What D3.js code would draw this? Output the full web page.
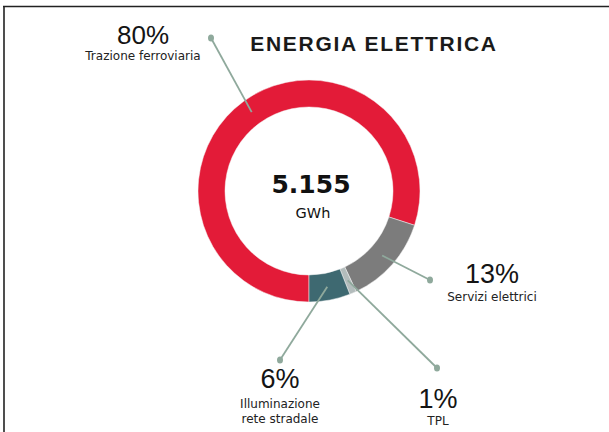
<!DOCTYPE html>
<html>
<head>
<meta charset="utf-8">
<script src="https://cdn.jsdelivr.net/npm/d3@7/dist/d3.min.js"></script>
<style>
  html, body { margin: 0; padding: 0; background: #fff; }
  svg { display: block; }
</style>
</head>
<body>
<svg id="chart" width="609" height="432"></svg>
<script>
// ---- data ----
const title = "ENERGIA ELETTRICA";
const totalValue = "5.155";
const totalUnit = "GWh";
const categories = ["Trazione ferroviaria", "Servizi elettrici", "TPL", "Illuminazione rete stradale"];
const values = [80, 13, 1, 6];
const valueLabels = ["80%", "13%", "1%", "6%"];
const labelLines = [["Trazione ferroviaria"], ["Servizi elettrici"], ["TPL"], ["Illuminazione", "rete stradale"]];
const colors = ["#e31b38", "#7c7c7c", "#b3bcbc", "#3e6971"];

// ---- layout ----
const W = 609, H = 432;
const cx = 309, cy = 191;
const rOuter = 111, rInner = 84;
// leader end (dot) positions and label anchors, per slice
const layout = [
  { dot: [211, 38],  lx: 143, py: 44,  sy: 60 },
  { dot: [430, 280], lx: 492, py: 283, sy: 301 },
  { dot: [437, 368], lx: 438, py: 408, sy: 425 },
  { dot: [280, 360], lx: 280, py: 388, sy: 408 }
];

const svg = d3.select("#chart");

// frame (top and left rules)
svg.append("line").attr("x1", 3).attr("x2", W).attr("y1", 6.5).attr("y2", 6.5)
  .attr("stroke", "#222").attr("stroke-width", 1.6);
svg.append("line").attr("x1", 4).attr("x2", 4).attr("y1", 6).attr("y2", H)
  .attr("stroke", "#222").attr("stroke-width", 1.6);

// title
svg.append("text")
  .attr("x", 374).attr("y", 51)
  .attr("text-anchor", "middle")
  .attr("font-family", "'Liberation Sans', Arial, sans-serif")
  .attr("font-weight", "bold")
  .attr("font-size", 21)
  .attr("letter-spacing", 1.7)
  .attr("fill", "#1a1a1a")
  .text(title);

const pie = d3.pie().sort(null).value(d => d).startAngle(Math.PI).endAngle(3 * Math.PI);
const arcs = pie(values);
const arc = d3.arc().innerRadius(rInner).outerRadius(rOuter);
const midArc = d3.arc().innerRadius((rInner + rOuter) / 2).outerRadius((rInner + rOuter) / 2);

const g = svg.append("g").attr("transform", `translate(${cx},${cy})`);

g.selectAll("path.slice")
  .data(arcs)
  .join("path")
  .attr("class", "slice")
  .attr("d", arc)
  .attr("fill", (d, i) => colors[i])
  .attr("stroke", "#f4f4f4")
  .attr("stroke-width", 0.5);

// leader lines
const lineColor = "#8fa99c";
arcs.forEach((d, i) => {
  const c = midArc.centroid(d);
  const sx = cx + c[0], sy = cy + c[1];
  const [ex, ey] = layout[i].dot;
  svg.append("line")
    .attr("x1", sx).attr("y1", sy).attr("x2", ex).attr("y2", ey)
    .attr("stroke", lineColor).attr("stroke-width", 1.8);
  svg.append("ellipse")
    .attr("cx", ex).attr("cy", ey).attr("rx", 3).attr("ry", 3.6)
    .attr("fill", lineColor);
});

// labels
arcs.forEach((d, i) => {
  const L = layout[i];
  svg.append("text")
    .attr("x", L.lx).attr("y", L.py)
    .attr("text-anchor", "middle")
    .attr("font-family", "'Liberation Sans', Arial, sans-serif")
    .attr("font-size", i === 0 ? 26 : 27)
    .attr("fill", "#141414")
    .text(valueLabels[i]);
  labelLines[i].forEach((t, j) => {
    svg.append("text")
      .attr("x", L.lx).attr("y", L.sy + j * 15)
      .attr("text-anchor", "middle")
      .attr("font-family", "'DejaVu Sans', Verdana, sans-serif")
      .attr("font-size", 12)
      .attr("fill", "#222")
      .text(t);
  });
});

// center text
svg.append("text")
  .attr("x", 311).attr("y", 193)
  .attr("text-anchor", "middle")
  .attr("font-family", "'DejaVu Sans', Verdana, sans-serif")
  .attr("font-weight", "bold")
  .attr("font-size", 25)
  .attr("fill", "#111")
  .text(totalValue);
svg.append("text")
  .attr("x", 313).attr("y", 218)
  .attr("text-anchor", "middle")
  .attr("font-family", "'DejaVu Sans', Verdana, sans-serif")
  .attr("font-size", 14.5)
  .attr("fill", "#111")
  .text(totalUnit);
</script>
</body>
</html>
